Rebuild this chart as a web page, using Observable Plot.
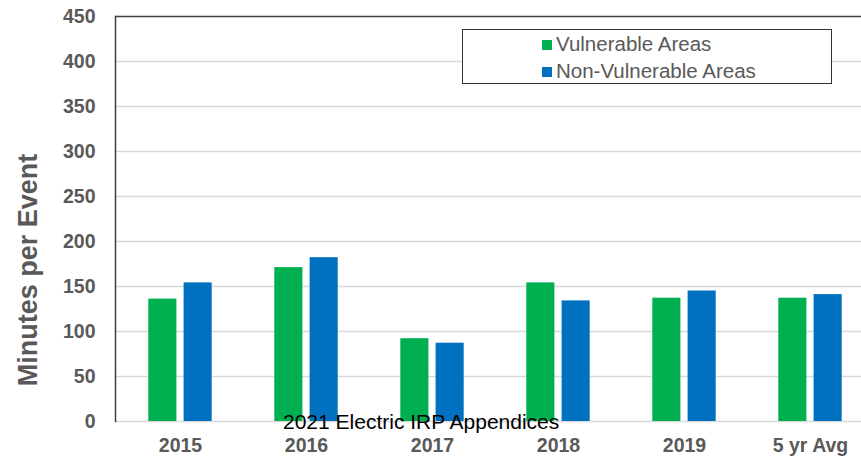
<!DOCTYPE html>
<html>
<head>
<meta charset="utf-8">
<script src="https://cdn.jsdelivr.net/npm/d3@7"></script>
<script src="https://cdn.jsdelivr.net/npm/@observablehq/plot@0.6"></script>
<style>
  html, body { margin: 0; padding: 0; background: #fff; }
  #wrap { position: relative; width: 861px; height: 458px; overflow: hidden; font-family: "Liberation Sans", Arial, sans-serif; }
  #legend { position: absolute; left: 462px; top: 29px; width: 368px; height: 53px; border: 1.5px solid #333; background: #fff; }
  .item { position: absolute; left: 79px; font-size: 20.5px; color: #595959; line-height: 1; white-space: nowrap; }
  .sw { display: inline-block; width: 10px; height: 10px; margin-right: 4px; vertical-align: 1px; }
  #note { position: absolute; left: 283px; top: 411px; font-size: 21px; color: #000; line-height: 1; white-space: nowrap; }
</style>
</head>
<body>
<div id="wrap"></div>
<script>
const categories = ["2015", "2016", "2017", "2018", "2019", "5 yr Avg"];
const vulnerable = [136, 171, 92, 154, 137, 137];
const nonVulnerable = [154, 182, 87, 134, 145, 141];
const seriesNames = ["Vulnerable Areas", "Non-Vulnerable Areas"];
const seriesColors = ["#00B050", "#0070C0"];
const yTicks = [0, 50, 100, 150, 200, 250, 300, 350, 400, 450];
const yLabel = "Minutes per Event";
const note = "2021 Electric IRP Appendices";

const rowsV = categories.map((c, i) => ({category: c, value: vulnerable[i]}));
const rowsN = categories.map((c, i) => ({category: c, value: nonVulnerable[i]}));

const chart = Plot.plot({
  width: 861,
  height: 458,
  marginLeft: 115,
  marginRight: -13,
  marginTop: 16,
  marginBottom: 37,
  style: {fontFamily: "'Liberation Sans', Arial, sans-serif", overflow: "hidden"},
  x: {domain: categories, padding: 0, label: null},
  y: {domain: [0, 450], label: null},
  marks: [
    Plot.ruleY(yTicks.filter(d => d > 0 && d < 450), {stroke: "#d9d9d9", strokeWidth: 1.5}),
    Plot.ruleY([0], {stroke: "#d9d9d9", strokeWidth: 1.5}),
    Plot.barY(rowsV, {x: "category", y: "value", fill: seriesColors[0], insetLeft: 31.3, insetRight: 66.6}),
    Plot.barY(rowsN, {x: "category", y: "value", fill: seriesColors[1], insetLeft: 66.6, insetRight: 31.3}),
    Plot.ruleY([450], {stroke: "#404040", strokeWidth: 1.5}),
    Plot.frame({anchor: "left", stroke: "#404040", strokeWidth: 1.5}),
    Plot.axisY({ticks: yTicks, tickSize: 0, tickPadding: 20, label: null, fontSize: 19.5, fontWeight: "bold", color: "#595959"}),
    Plot.axisX({tickSize: 0, tickPadding: 17, label: null, fontSize: 19.5, fontWeight: "bold", color: "#595959"}),
    Plot.text([yLabel], {frameAnchor: "left", textAnchor: "middle", rotate: -90, dx: -87, dy: 51, fontSize: 27, fontWeight: "bold", fill: "#595959"})
  ]
});

const wrap = document.getElementById("wrap");
wrap.appendChild(chart);

const legend = document.createElement("div");
legend.id = "legend";
seriesNames.forEach((name, i) => {
  const item = document.createElement("div");
  item.className = "item";
  item.style.top = (i === 0 ? 4 : 31) + "px";
  const sw = document.createElement("span");
  sw.className = "sw";
  sw.style.background = seriesColors[i];
  item.appendChild(sw);
  item.appendChild(document.createTextNode(name));
  legend.appendChild(item);
});
wrap.appendChild(legend);

const n = document.createElement("div");
n.id = "note";
n.textContent = note;
wrap.appendChild(n);
</script>
</body>
</html>
